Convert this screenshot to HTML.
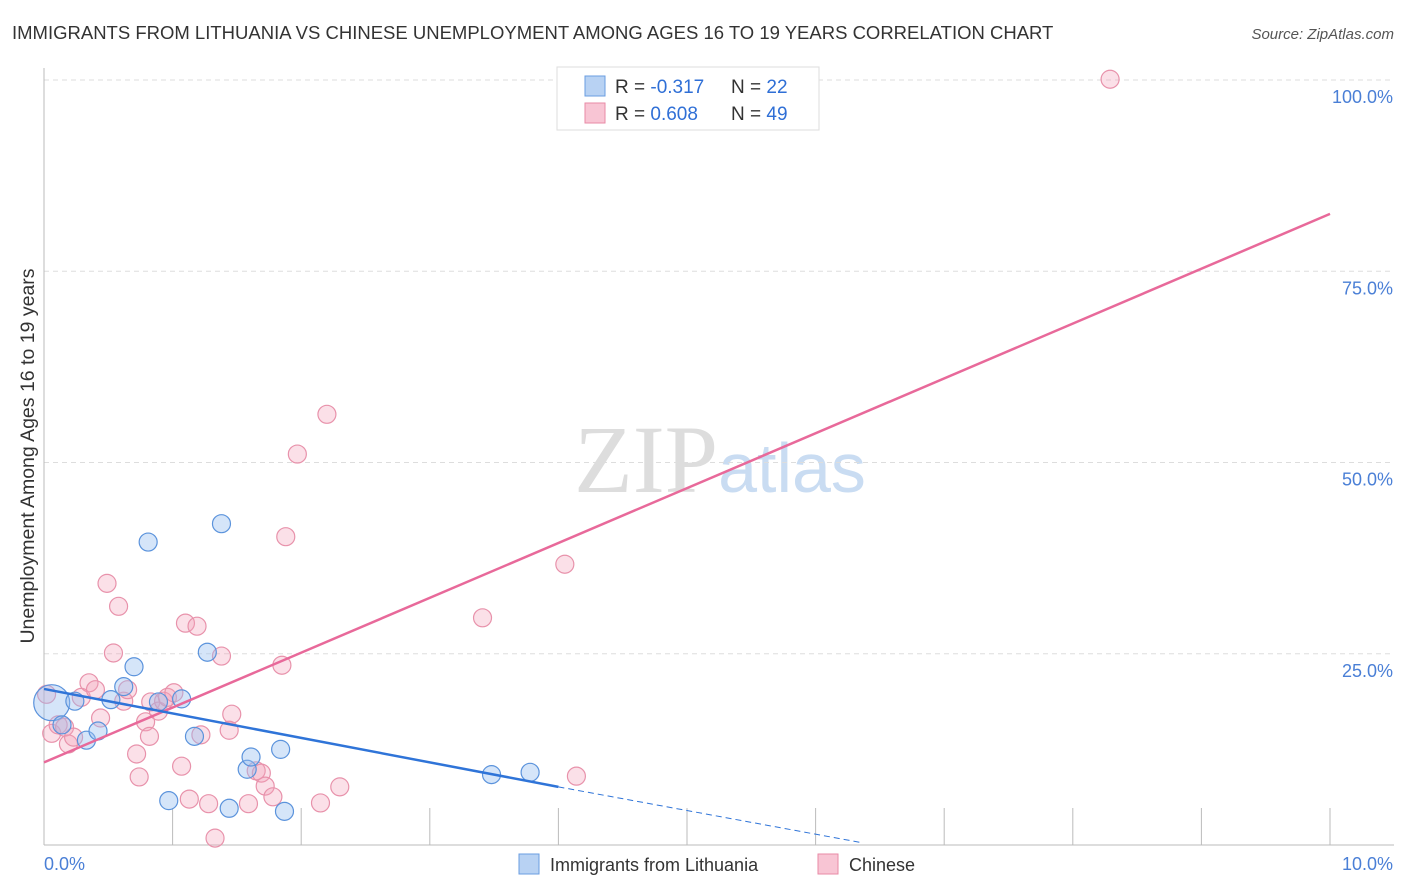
<!DOCTYPE html>
<html><head><meta charset="utf-8"><style>
body{margin:0;background:#fff;font-family:"Liberation Sans",sans-serif;}
svg{display:block}
</style></head><body>
<svg id="c" width="1406" height="892">
<text x="12" y="39" font-size="18.5" fill="#333">IMMIGRANTS FROM LITHUANIA VS CHINESE UNEMPLOYMENT AMONG AGES 16 TO 19 YEARS CORRELATION CHART</text>
<text x="1394" y="39" font-size="15" fill="#555" font-style="italic" text-anchor="end">Source: ZipAtlas.com</text>
<text x="720" y="492" font-size="96" fill="#ddd" text-anchor="middle" font-family="Liberation Serif, serif">ZIP<tspan fill="#c9dcf2" font-family="Liberation Sans, sans-serif" font-size="70">atlas</tspan></text>
<text transform="translate(34,456) rotate(-90)" font-size="19.5" fill="#333" text-anchor="middle">Unemployment Among Ages 16 to 19 years</text>
<g id="grid"></g><g id="marks"></g>
<g>
<rect x="557" y="67" width="262" height="63" fill="#fff" stroke="#ddd"/>
<rect x="585" y="76" width="20" height="20" fill="#b8d2f3" stroke="#6a9de0"/>
<rect x="585" y="103" width="20" height="20" fill="#f8c5d4" stroke="#e88aa6"/>
<text x="615" y="93" font-size="19" fill="#333">R = <tspan fill="#2f6fd6">-0.317</tspan></text>
<text x="731" y="93" font-size="19" fill="#333">N = <tspan fill="#2f6fd6">22</tspan></text>
<text x="615" y="120" font-size="19" fill="#333">R = <tspan fill="#2f6fd6">0.608</tspan></text>
<text x="731" y="120" font-size="19" fill="#333">N = <tspan fill="#2f6fd6">49</tspan></text>
</g>
<g>
<rect x="519" y="854" width="20" height="20" fill="#b8d2f3" stroke="#6a9de0"/>
<text x="550" y="871" font-size="18" fill="#333">Immigrants from Lithuania</text>
<rect x="818" y="854" width="20" height="20" fill="#f8c5d4" stroke="#e88aa6"/>
<text x="849" y="871" font-size="18" fill="#333">Chinese</text>
</g>
</svg>
<script>
const yTicks=[25,50,75,100];
const yTickLabels=["25.0%","50.0%","75.0%","100.0%"];
const xTickLabels=["0.0%","10.0%"];
const blueX=[.06,.14,.24,.33,.42,.52,.62,.70,.81,.89,.97,1.07,1.17,1.27,1.38,1.44,1.58,1.61,1.84,1.87,3.48,3.78];
const blueY=[18.6,15.7,18.8,13.7,14.9,19.0,20.7,23.3,39.6,18.7,5.8,19.1,14.2,25.2,42.0,4.8,9.9,11.5,12.5,4.4,9.2,9.5];
const pinkX=[.02,.06,.11,.16,.19,.23,.29,.35,.40,.44,.49,.54,.58,.62,.65,.72,.74,.79,.82,.83,.89,.93,.96,1.01,1.07,1.10,1.13,1.19,1.22,1.28,1.33,1.38,1.46,1.59,1.65,1.69,1.72,1.78,1.85,1.88,1.97,2.15,2.20,2.30,3.41,4.05,4.14,8.29,1.44];
const pinkY=[19.7,14.6,15.7,15.4,13.2,14.1,19.3,21.2,20.3,16.6,34.2,25.1,31.2,18.8,20.3,11.9,8.9,16.1,14.2,18.7,17.5,18.8,19.3,19.9,10.3,29.0,6.0,28.6,14.4,5.4,0.9,24.7,17.1,5.4,9.7,9.4,7.7,6.3,23.5,40.3,51.1,5.5,56.3,7.6,29.7,36.7,9.0,100.1,15.0];
const pinkLine=[10.8,82.5];
const blueLine=[20.4,7.6,0.3];
const blueLineX=[0,4.0,6.36];
const NS="http://www.w3.org/2000/svg";
const sx=v=>44+v*128.6, sy=v=>845-v*7.65;
function mk(t,a,p){const e=document.createElementNS(NS,t);for(const k in a)e.setAttribute(k,a[k]);p.appendChild(e);return e;}
const g=document.getElementById('grid'),m=document.getElementById('marks');
yTicks.forEach((t,i)=>{
 const l=mk('line',{x1:44,x2:1394,y1:sy(t),y2:sy(t),stroke:'#ddd','stroke-dasharray':'5,4'},g);
 
 
 const tx=mk('text',{x:1393,y:sy(t)+23,'font-size':18,fill:'#4a7fd6','text-anchor':'end'},g);tx.textContent=yTickLabels[i];
 
 
});
const ax=mk('line',{x1:44,x2:44,y1:68,y2:845,stroke:'#bbb'},g);


const bx=mk('line',{x1:44,x2:1394,y1:845,y2:845,stroke:'#bbb'},g);


for(let i=1;i<=10;i++){const t=mk('line',{x1:sx(i),x2:sx(i),y1:808,y2:845,stroke:'#bbb'},g);
 
 }
[[0,'start',44],[10,'end',1393]].forEach((d,i)=>{const t=mk('text',{x:d[2],y:870,'font-size':18,fill:'#4a7fd6','text-anchor':d[1]},g);t.textContent=xTickLabels[i];
 
 });
function dots(X,Y,fill,stroke,name){X.forEach((x,i)=>{const c=mk('circle',{cx:sx(x),cy:sy(Y[i]),r:(i==0&&name=='blue-point')?18:9,fill,stroke,'stroke-width':1.2},m);
 
 });}
dots(pinkX,pinkY,'rgba(244,160,185,0.33)','#e892ab','pink-point');
dots(blueX,blueY,'rgba(150,190,240,0.4)','#5b93dc','blue-point');
const pl=mk('line',{x1:sx(0),y1:sy(pinkLine[0]),x2:sx(10),y2:sy(pinkLine[1]),stroke:'#e8699a','stroke-width':2.5},m);


const bl=mk('line',{x1:sx(blueLineX[0]),y1:sy(blueLine[0]),x2:sx(blueLineX[1]),y2:sy(blueLine[1]),stroke:'#2f74d8','stroke-width':2.5},m);


const bd=mk('line',{x1:sx(blueLineX[1]),y1:sy(blueLine[1]),x2:sx(blueLineX[2]),y2:sy(blueLine[2]),stroke:'#2f74d8','stroke-width':1,'stroke-dasharray':'6,4'},m);


</script>
</body></html>
